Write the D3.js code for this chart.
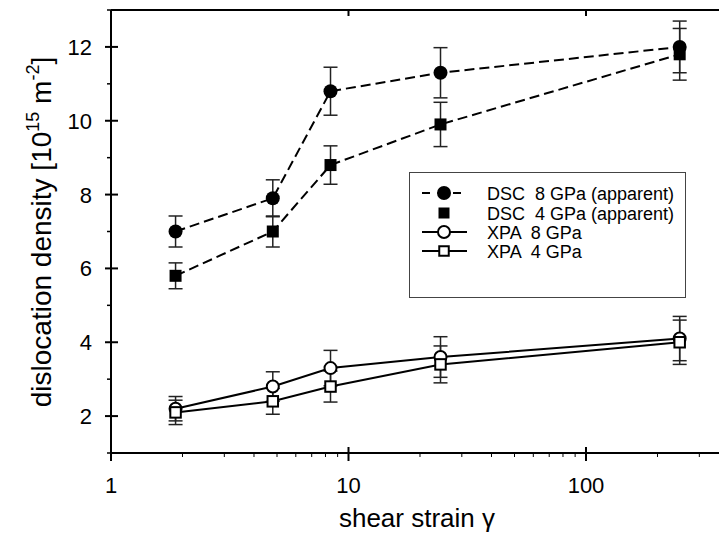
<!DOCTYPE html>
<html><head><meta charset="utf-8">
<script src="https://cdn.jsdelivr.net/npm/d3@7"></script>
<style>body{margin:0;background:#fff}svg{display:block;font-family:"Liberation Sans",Arial,sans-serif}</style>
</head><body>
<svg id="c" width="719" height="534"></svg>
<script>
const strain = [1.87, 4.8, 8.4, 24.4, 248];
const dsc8 = [7.0, 7.9, 10.8, 11.3, 12.0];
const dsc8Err = [0.42, 0.5, 0.65, 0.68, 0.7];
const dsc4 = [5.8, 7.0, 8.8, 9.9, 11.8];
const dsc4Err = [0.35, 0.42, 0.52, 0.6, 0.7];
const xpa8 = [2.2, 2.8, 3.3, 3.6, 4.1];
const xpa8Err = [0.33, 0.4, 0.48, 0.55, 0.6];
const xpa4 = [2.1, 2.4, 2.8, 3.4, 4.0];
const xpa4Err = [0.33, 0.35, 0.42, 0.5, 0.6];
const seriesNames = ["DSC  8 GPa (apparent)", "DSC  4 GPa (apparent)", "XPA  8 GPa", "XPA  4 GPa"];
const xMajor = [1, 10, 100];
const xMinor = [2,3,4,5,6,7,8,9,20,30,40,50,60,70,80,90,200,300];
const yMajor = [2,4,6,8,10,12];
const yMinor = [1,3,5,7,9,11,13];

const svg = d3.select("#c");
const L = 111, T = 10, B = 453;
const x = d3.scaleLog().domain([1, 400]).range([L, L + Math.log10(400) * 237.5]);
const y = d3.scaleLinear().domain([1, 13]).range([B, T]);

const series = [
  {v: dsc8, e: dsc8Err, dash: "10,5", shape: "circle", fill: "#000"},
  {v: dsc4, e: dsc4Err, dash: "10,5", shape: "square", fill: "#000"},
  {v: xpa8, e: xpa8Err, dash: null, shape: "circle", fill: "#fff"},
  {v: xpa4, e: xpa4Err, dash: null, shape: "square", fill: "#fff"}
];

// axes
const g = svg.append("g");
const xr = x.range();
g.append("line").attr("x1", L).attr("x2", xr[1]).attr("y1", B).attr("y2", B).attr("stroke", "#000").attr("stroke-width", 2);
g.append("line").attr("x1", L).attr("x2", xr[1]).attr("y1", T).attr("y2", T).attr("stroke", "#000").attr("stroke-width", 2);
g.append("line").attr("x1", L).attr("x2", L).attr("y1", T).attr("y2", B).attr("stroke", "#000").attr("stroke-width", 2);

xMajor.forEach(d => {
  g.append("line").attr("x1", x(d)).attr("x2", x(d)).attr("y1", B - 6).attr("y2", B + 8).attr("stroke", "#000").attr("stroke-width", 2);
  if (d > 1) g.append("line").attr("x1", x(d)).attr("x2", x(d)).attr("y1", T).attr("y2", T + 6).attr("stroke", "#000").attr("stroke-width", 2);
  g.append("text").attr("x", x(d)).attr("y", 493).attr("text-anchor", "middle").attr("font-size", 22).text(d);
});
xMinor.forEach(d => {
  g.append("line").attr("x1", x(d)).attr("x2", x(d)).attr("y1", B).attr("y2", B + 4).attr("stroke", "#000").attr("stroke-width", 1);
});
yMajor.forEach(d => {
  g.append("line").attr("x1", L - 6).attr("x2", L + 7).attr("y1", y(d)).attr("y2", y(d)).attr("stroke", "#000").attr("stroke-width", 2);
  g.append("text").attr("x", 92).attr("y", y(d) + 8).attr("text-anchor", "end").attr("font-size", 22).text(d);
});
yMinor.forEach(d => {
  g.append("line").attr("x1", L - 4).attr("x2", L).attr("y1", y(d)).attr("y2", y(d)).attr("stroke", "#000").attr("stroke-width", 1.5);
});

g.append("text").attr("x", 417).attr("y", 527).attr("text-anchor", "middle").attr("font-size", 26).text("shear strain γ");
const yt = g.append("text").attr("transform", "translate(51,232) rotate(-90)").attr("text-anchor", "middle").attr("font-size", 28);
yt.append("tspan").text("dislocation density [10");
yt.append("tspan").attr("font-size", 18).attr("dy", -12).text("15");
yt.append("tspan").attr("dy", 12).text(" m");
yt.append("tspan").attr("font-size", 18).attr("dy", -12).text("-2");
yt.append("tspan").attr("dy", 12).text("]");

// error bars
series.forEach(s => {
  s.v.forEach((v, i) => {
    const cx = x(strain[i]);
    const eg = svg.append("g").attr("stroke", "#222").attr("stroke-width", 1.5);
    eg.append("line").attr("x1", cx).attr("x2", cx).attr("y1", y(v + s.e[i])).attr("y2", y(v - s.e[i]));
    [v + s.e[i], v - s.e[i]].forEach(w => eg.append("line").attr("x1", cx - 7).attr("x2", cx + 7).attr("y1", y(w)).attr("y2", y(w)));
  });
});

// lines
const line = d3.line().x((d, i) => x(strain[i])).y(d => y(d));
series.forEach(s => {
  svg.append("path").attr("d", line(s.v)).attr("fill", "none").attr("stroke", "#000").attr("stroke-width", 2)
    .attr("stroke-dasharray", s.dash);
});

function marker(sel, shape, fill, cx, cy, sz) {
  if (shape === "circle") {
    sel.append("circle").attr("cx", cx).attr("cy", cy).attr("r", fill === "#000" ? sz / 2 + 0.5 : sz / 2 - 0.5)
      .attr("fill", fill).attr("stroke", "#000").attr("stroke-width", fill === "#000" ? 0 : 2);
  } else {
    const h = fill === "#000" ? sz : sz - 1.5;
    sel.append("rect").attr("x", cx - h / 2).attr("y", cy - h / 2).attr("width", h).attr("height", h)
      .attr("fill", fill).attr("stroke", "#000").attr("stroke-width", fill === "#000" ? 0 : 2);
  }
}
series.forEach(s => {
  s.v.forEach((v, i) => marker(svg, s.shape, s.fill, x(strain[i]), y(v), s.shape === "circle" ? 13 : 12));
});

// legend
const lg = svg.append("g");
lg.append("rect").attr("x", 409.5).attr("y", 172.5).attr("width", 276).attr("height", 125).attr("fill", "#fff").attr("stroke", "#444").attr("stroke-width", 1);
const rowY = [193, 213, 232, 251];
series.forEach((s, i) => {
  if (i !== 1) lg.append("line").attr("x1", 422).attr("x2", 467).attr("y1", rowY[i]).attr("y2", rowY[i]).attr("stroke", "#000").attr("stroke-width", 2).attr("stroke-dasharray", s.dash ? "8,7.5" : null);
  marker(lg, s.shape, s.fill, 444, rowY[i], s.shape === "circle" ? 13 : 11);
  lg.append("text").attr("x", 487).attr("y", rowY[i] + 6.5).attr("font-size", 18).attr("xml:space", "preserve").style("white-space", "pre").text(seriesNames[i]);
});
</script>
</body></html>
